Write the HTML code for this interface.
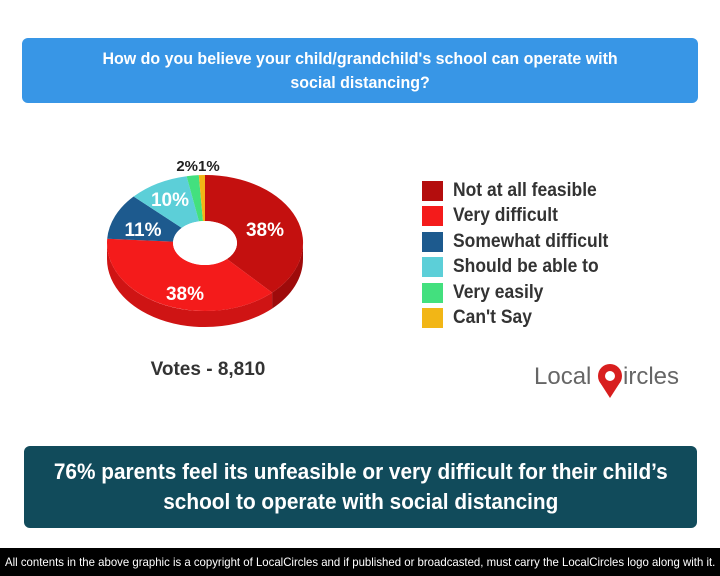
<!DOCTYPE html>
<html><head><meta charset="utf-8"><style>
body{margin:0;width:720px;height:576px;background:#fff;position:relative;overflow:hidden;font-family:"Liberation Sans",sans-serif;}
.t{position:absolute;left:22px;top:38px;width:676px;height:65px;background:#3896e6;border-radius:6px;color:#fff;font-weight:bold;font-size:17px;text-align:center;line-height:24px;padding-top:9px;box-sizing:border-box;}
.t span,.b span{display:inline-block;}
.b{position:absolute;left:24px;top:446px;width:673px;height:82px;background:#114b5b;border-radius:6px;color:#fff;font-weight:bold;font-size:22px;text-align:center;line-height:30px;padding-top:11px;box-sizing:border-box;}
.f{position:absolute;left:0;top:548px;width:720px;height:28px;background:#000;color:#fff;font-size:12px;line-height:28px;white-space:nowrap;}
.f span{position:absolute;left:5px;top:0;transform:scaleX(0.95);transform-origin:left;}
.lg{position:absolute;left:422px;font-size:19px;font-weight:bold;color:#333;line-height:20px;white-space:nowrap;}
.lg i{display:inline-block;width:21px;height:20px;vertical-align:top;margin-right:10px;}
.lg span{display:inline-block;transform:scaleX(0.92);transform-origin:left;}
</style></head><body>
<div class="t"><span style="transform:scaleX(0.94)">How do you believe your child/grandchild's school can operate with<br>social distancing?</span></div>
<svg style="position:absolute;left:0;top:0" width="720" height="440">
<path d="M303,243 A98,68 0 0 1 272.1,292.6 L272.1,308.6 A98,68 0 0 0 303,259 Z" fill="#9e0b0b"/>
<path d="M272.1,292.6 A98,68 0 0 1 107,243 L107,259 A98,68 0 0 0 272.1,308.6 Z" fill="#cf1414"/>
<path d="M205,175 A98,68 0 0 1 272.1,292.6 L226.9,259 A32,22 0 0 0 205,221 Z" fill="#c4100f"/>
<path d="M272.1,292.6 A98,68 0 0 1 107.2,238.7 L173.1,241.6 A32,22 0 0 0 226.9,259 Z" fill="#f41b1b"/>
<path d="M107.2,238.7 A98,68 0 0 1 133.6,196.5 L181.7,227.9 A32,22 0 0 0 173.1,241.6 Z" fill="#1d5a8e"/>
<path d="M133.6,196.5 A98,68 0 0 1 186.6,176.2 L199,221.4 A32,22 0 0 0 181.7,227.9 Z" fill="#5ccfd8"/>
<path d="M186.6,176.2 A98,68 0 0 1 198.8,175.1 L203,221 A32,22 0 0 0 199,221.4 Z" fill="#43e07e"/>
<path d="M198.8,175.1 A98,68 0 0 1 205,175 L205,221 A32,22 0 0 0 203,221 Z" fill="#f2b616"/>
<ellipse cx="205" cy="243" rx="32" ry="22" fill="#fff"/>
<g font-family="Liberation Sans, sans-serif" font-weight="bold" font-size="19" fill="#fff" text-anchor="middle">
<text x="265" y="236">38%</text><text x="185" y="300">38%</text><text x="143" y="236">11%</text><text x="170" y="206">10%</text>
</g>
<text x="198" y="171" font-family="Liberation Sans, sans-serif" font-weight="bold" font-size="15" fill="#222" text-anchor="middle">2%1%</text>
<text x="208" y="375" font-family="Liberation Sans, sans-serif" font-weight="bold" font-size="19" fill="#333" text-anchor="middle">Votes - 8,810</text>
<text x="534" y="384" font-family="Liberation Sans, sans-serif" font-size="24" fill="#666">Local</text>
<circle cx="610" cy="376" r="12" fill="#d81e1e"/><path d="M601,384 L610,398 L619,384 Z" fill="#d81e1e"/>
<circle cx="610" cy="376" r="5" fill="#fff"/>
<text x="623" y="384" font-family="Liberation Sans, sans-serif" font-size="24" fill="#666">ircles</text>
</svg>
<div class="lg" style="top:181px"><i style="background:#b40d0d"></i><span>Not at all feasible</span></div>
<div class="lg" style="top:206px"><i style="background:#f41b1b"></i><span>Very difficult</span></div>
<div class="lg" style="top:232px"><i style="background:#1d5a8e"></i><span>Somewhat difficult</span></div>
<div class="lg" style="top:257px"><i style="background:#5ccfd8"></i><span>Should be able to</span></div>
<div class="lg" style="top:283px"><i style="background:#43e07e"></i><span>Very easily</span></div>
<div class="lg" style="top:308px"><i style="background:#f2b616"></i><span>Can't Say</span></div>
<div class="b"><span style="transform:scaleX(0.945)">76% parents feel its unfeasible or very difficult for their child’s<br>school to operate with social distancing</span></div>
<div class="f"><span>All contents in the above graphic is a copyright of LocalCircles and if published or broadcasted, must carry the LocalCircles logo along with it.</span></div>
</body></html>
